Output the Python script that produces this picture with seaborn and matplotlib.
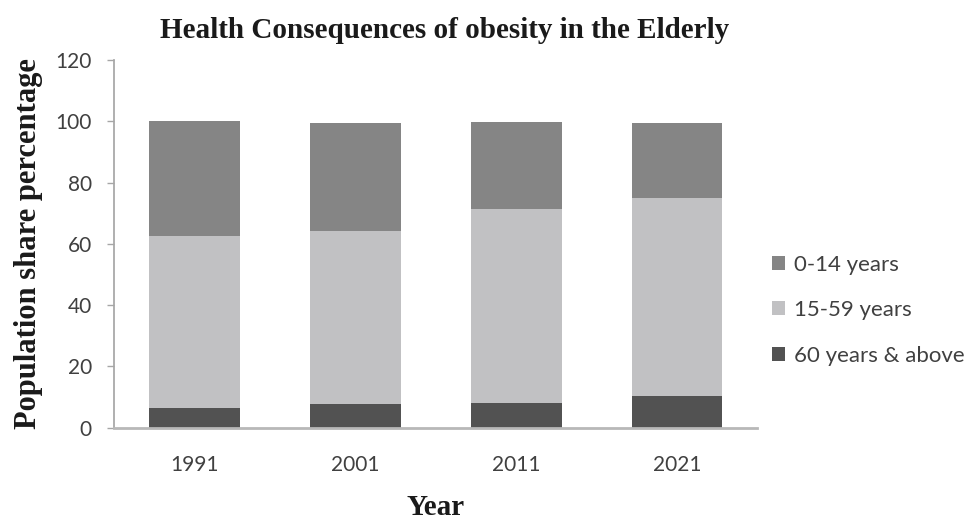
import matplotlib
matplotlib.use("Agg")
import matplotlib.pyplot as plt
import seaborn as sns
import pandas as pd
import numpy as np
from matplotlib.patches import Patch

years = ["1991", "2001", "2011", "2021"]
age_0_14 = [37.7, 35.5, 28.5, 24.7]
age_15_59 = [56.0, 56.5, 63.1, 64.3]
age_60_plus = [6.5, 7.6, 8.2, 10.5]
series_labels = ["0-14 years", "15-59 years", "60 years & above"]
colors = {"0-14 years": "#858585", "15-59 years": "#c1c1c3", "60 years & above": "#525252"}

df = pd.DataFrame({"Year": years, "0-14 years": age_0_14,
                   "15-59 years": age_15_59, "60 years & above": age_60_plus})
df["top"] = df["0-14 years"] + df["15-59 years"] + df["60 years & above"]
df["mid"] = df["15-59 years"] + df["60 years & above"]
df["low"] = df["60 years & above"]

sns.set_theme(style="white")
plt.rcParams['font.family'] = ['Lato', 'DejaVu Sans']

fig = plt.figure(figsize=(9.71, 5.23), dpi=100)
ax = fig.add_axes([0.1174, 0.1822, 0.6626, 0.7031])

for col, lab in [("top", "0-14 years"), ("mid", "15-59 years"), ("low", "60 years & above")]:
    sns.barplot(data=df, x="Year", y=col, color=colors[lab], width=0.565,
                saturation=1, ax=ax, linewidth=0, order=years)

ax.set_xlim(-0.5, 3.5)
ax.set_ylim(0, 120)
ax.set_yticks(np.arange(0, 121, 20))
for s in ["top", "right"]:
    ax.spines[s].set_visible(False)
ax.spines["left"].set_color("#a6a6a6")
ax.spines["bottom"].set_color("#b8b8b8")
ax.spines["bottom"].set_linewidth(2)
ax.tick_params(axis="y", which="both", left=True, length=5, width=1, color="#a6a6a6",
               labelsize=15, labelcolor="#404040", pad=11)
ax.tick_params(axis="x", bottom=False, labelsize=15, labelcolor="#404040", pad=14)

ax.set_xlabel("Year", family=["Liberation Serif"], fontweight="bold", fontsize=21,
              color="#1a1a1a", labelpad=13)
ax.set_ylabel("Population share percentage", family=["Liberation Serif"], fontweight="bold",
              fontsize=22, color="#1a1a1a", labelpad=9)
fig.text(0.458, 0.942, "Health Consequences of obesity in the Elderly",
         family=["Liberation Serif"], fontweight="bold", fontsize=21, color="#1a1a1a",
         ha="center", va="center")

handles = [Patch(facecolor=colors[l], edgecolor="none", label=l) for l in series_labels]
leg = fig.legend(handles=handles, loc="center left", bbox_to_anchor=(0.786, 0.407),
                 frameon=False, fontsize=16, handlelength=0.6, handleheight=0.6,
                 handletextpad=0.4, labelspacing=1.15, borderaxespad=0)
for t in leg.get_texts():
    t.set_color("#404040")

fig.savefig("out.png", dpi=100)
